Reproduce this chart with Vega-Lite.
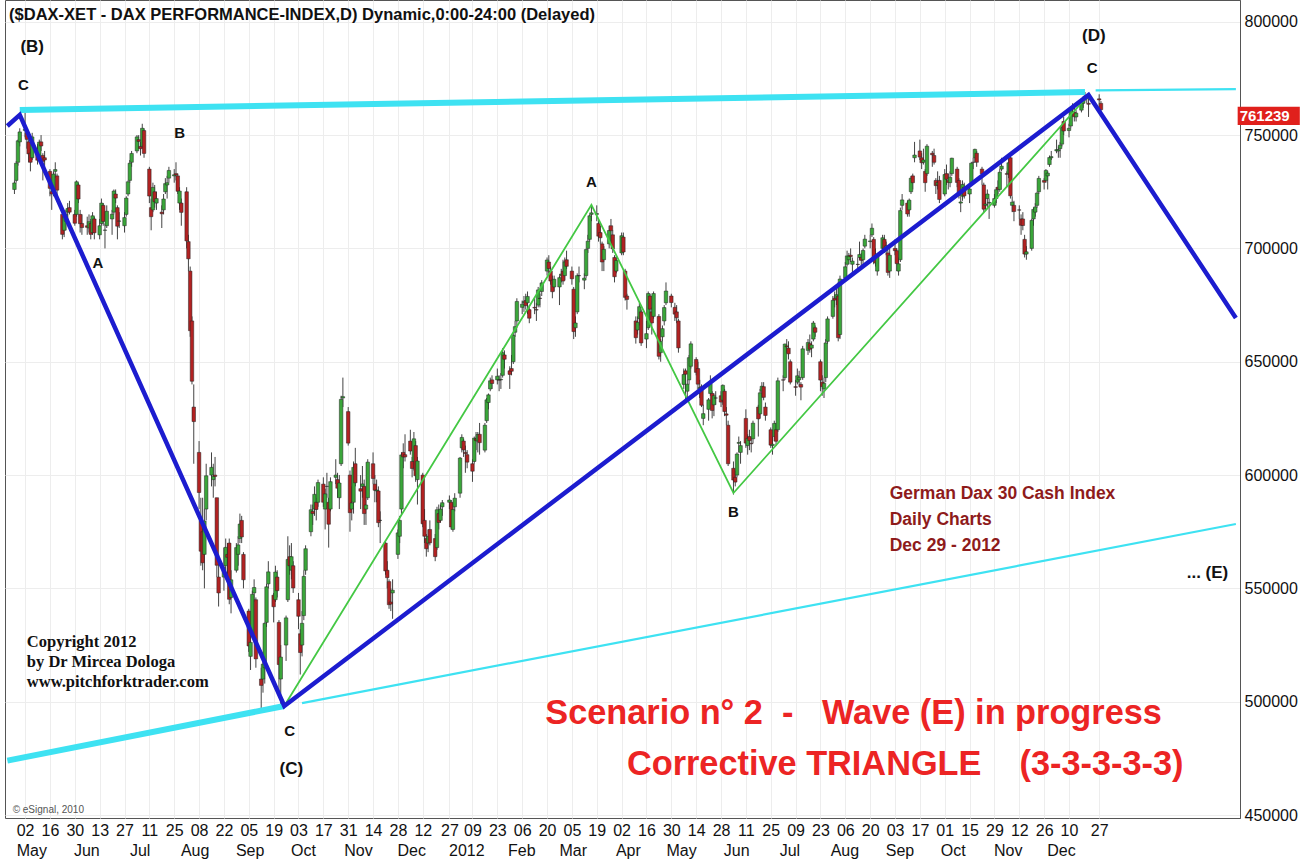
{
"$schema":"https://vega.github.io/schema/vega-lite/v6.json",
"width":1235,"height":818,"autosize":"none",
"padding":{"left":5,"top":0,"right":72,"bottom":45},
"background":"white",
"config":{"font":"Liberation Sans","view":{"stroke":"#555","strokeWidth":1}},
"resolve":{"axis":{"x":"independent","y":"independent"}},
"datasets":{
"px":[
{"d":"2011-04-26","o":7260,"h":7300,"l":7240,"c":7289},{"d":"2011-04-27","o":7300,"h":7385,"l":7290,"c":7376},{"d":"2011-04-28","o":7380,"h":7480,"l":7365,"c":7475},{"d":"2011-04-29","o":7470,"h":7530,"l":7450,"c":7514},
{"d":"2011-05-02","o":7520,"h":7600,"l":7490,"c":7527},{"d":"2011-05-03","o":7510,"h":7530,"l":7440,"c":7481},{"d":"2011-05-04","o":7470,"h":7480,"l":7380,"c":7417},{"d":"2011-05-05","o":7420,"h":7440,"l":7340,"c":7380},{"d":"2011-05-06","o":7400,"h":7510,"l":7390,"c":7492},
{"d":"2011-05-09","o":7440,"h":7460,"l":7370,"c":7389},{"d":"2011-05-10","o":7400,"h":7480,"l":7390,"c":7469},{"d":"2011-05-11","o":7470,"h":7500,"l":7430,"c":7452},{"d":"2011-05-12","o":7410,"h":7420,"l":7300,"c":7384},{"d":"2011-05-13","o":7400,"h":7430,"l":7360,"c":7390},
{"d":"2011-05-16","o":7340,"h":7350,"l":7230,"c":7265},{"d":"2011-05-17","o":7250,"h":7270,"l":7170,"c":7240},{"d":"2011-05-18","o":7250,"h":7340,"l":7230,"c":7328},{"d":"2011-05-19","o":7340,"h":7380,"l":7310,"c":7348},{"d":"2011-05-20","o":7320,"h":7330,"l":7230,"c":7257},
{"d":"2011-05-23","o":7150,"h":7170,"l":7040,"c":7062},{"d":"2011-05-24","o":7080,"h":7150,"l":7050,"c":7140},{"d":"2011-05-25","o":7120,"h":7170,"l":7080,"c":7151},{"d":"2011-05-26","o":7160,"h":7200,"l":7120,"c":7176},{"d":"2011-05-27","o":7180,"h":7210,"l":7150,"c":7160},
{"d":"2011-05-30","o":7150,"h":7170,"l":7100,"c":7111},{"d":"2011-05-31","o":7150,"h":7300,"l":7140,"c":7294},{"d":"2011-06-01","o":7280,"h":7290,"l":7200,"c":7218},{"d":"2011-06-02","o":7150,"h":7170,"l":7070,"c":7109},{"d":"2011-06-03","o":7110,"h":7150,"l":7060,"c":7092},
{"d":"2011-06-06","o":7100,"h":7140,"l":7060,"c":7093},{"d":"2011-06-07","o":7090,"h":7150,"l":7070,"c":7118},{"d":"2011-06-08","o":7110,"h":7130,"l":7040,"c":7062},{"d":"2011-06-09","o":7070,"h":7160,"l":7060,"c":7144},{"d":"2011-06-10","o":7130,"h":7140,"l":7040,"c":7069},
{"d":"2011-06-13","o":7060,"h":7130,"l":7040,"c":7100},{"d":"2011-06-14","o":7110,"h":7220,"l":7100,"c":7200},{"d":"2011-06-15","o":7190,"h":7200,"l":7100,"c":7119},{"d":"2011-06-16","o":7080,"h":7110,"l":7000,"c":7081},{"d":"2011-06-17","o":7100,"h":7190,"l":7090,"c":7164},
{"d":"2011-06-20","o":7130,"h":7170,"l":7060,"c":7151},{"d":"2011-06-21","o":7160,"h":7260,"l":7150,"c":7253},{"d":"2011-06-22","o":7240,"h":7260,"l":7200,"c":7222},{"d":"2011-06-23","o":7180,"h":7190,"l":7040,"c":7098},{"d":"2011-06-24","o":7120,"h":7160,"l":7090,"c":7121},
{"d":"2011-06-27","o":7100,"h":7160,"l":7070,"c":7136},{"d":"2011-06-28","o":7150,"h":7230,"l":7140,"c":7222},{"d":"2011-06-29","o":7240,"h":7300,"l":7230,"c":7294},{"d":"2011-06-30","o":7300,"h":7390,"l":7290,"c":7376},{"d":"2011-07-01","o":7380,"h":7430,"l":7360,"c":7419},
{"d":"2011-07-04","o":7430,"h":7500,"l":7420,"c":7492},{"d":"2011-07-05","o":7480,"h":7500,"l":7440,"c":7472},{"d":"2011-07-06","o":7450,"h":7470,"l":7410,"c":7440},{"d":"2011-07-07","o":7450,"h":7550,"l":7440,"c":7530},{"d":"2011-07-08","o":7520,"h":7530,"l":7400,"c":7419},
{"d":"2011-07-11","o":7350,"h":7360,"l":7200,"c":7231},{"d":"2011-07-12","o":7180,"h":7220,"l":7080,"c":7140},{"d":"2011-07-13","o":7170,"h":7290,"l":7160,"c":7269},{"d":"2011-07-14","o":7250,"h":7280,"l":7180,"c":7206},{"d":"2011-07-15","o":7200,"h":7250,"l":7170,"c":7220},
{"d":"2011-07-18","o":7160,"h":7190,"l":7090,"c":7153},{"d":"2011-07-19","o":7170,"h":7240,"l":7150,"c":7218},{"d":"2011-07-20","o":7250,"h":7310,"l":7240,"c":7286},{"d":"2011-07-21","o":7280,"h":7320,"l":7220,"c":7290},{"d":"2011-07-22","o":7310,"h":7360,"l":7290,"c":7344},
{"d":"2011-07-25","o":7320,"h":7350,"l":7290,"c":7325},{"d":"2011-07-26","o":7330,"h":7380,"l":7300,"c":7324},{"d":"2011-07-27","o":7320,"h":7330,"l":7240,"c":7252},{"d":"2011-07-28","o":7200,"h":7270,"l":7170,"c":7253},{"d":"2011-07-29","o":7200,"h":7220,"l":7100,"c":7159},
{"d":"2011-08-01","o":7250,"h":7270,"l":7000,"c":7033},{"d":"2011-08-02","o":7030,"h":7060,"l":6900,"c":6954},{"d":"2011-08-03","o":6900,"h":6920,"l":6610,"c":6637},{"d":"2011-08-04","o":6680,"h":6700,"l":6400,"c":6414},{"d":"2011-08-05","o":6300,"h":6400,"l":6050,"c":6236},
{"d":"2011-08-08","o":6100,"h":6150,"l":5850,"c":5923},{"d":"2011-08-09","o":5800,"h":5900,"l":5600,"c":5664},{"d":"2011-08-10","o":5750,"h":5900,"l":5580,"c":5613},{"d":"2011-08-11","o":5650,"h":5850,"l":5500,"c":5797},{"d":"2011-08-12","o":5850,"h":6050,"l":5800,"c":5997},
{"d":"2011-08-15","o":6000,"h":6100,"l":5950,"c":6034},{"d":"2011-08-16","o":5980,"h":6050,"l":5900,"c":5995},{"d":"2011-08-17","o":6000,"h":6080,"l":5950,"c":5994},{"d":"2011-08-18","o":5900,"h":5900,"l":5550,"c":5602},{"d":"2011-08-19","o":5550,"h":5650,"l":5420,"c":5480},
{"d":"2011-08-22","o":5550,"h":5680,"l":5490,"c":5593},{"d":"2011-08-23","o":5600,"h":5720,"l":5560,"c":5681},{"d":"2011-08-24","o":5650,"h":5700,"l":5550,"c":5637},{"d":"2011-08-25","o":5700,"h":5720,"l":5430,"c":5452},{"d":"2011-08-26","o":5460,"h":5580,"l":5390,"c":5538},
{"d":"2011-08-29","o":5580,"h":5700,"l":5570,"c":5680},{"d":"2011-08-30","o":5650,"h":5730,"l":5600,"c":5692},{"d":"2011-08-31","o":5720,"h":5830,"l":5700,"c":5784},{"d":"2011-09-01","o":5800,"h":5820,"l":5700,"c":5727},{"d":"2011-09-02","o":5650,"h":5660,"l":5500,"c":5538},
{"d":"2011-09-05","o":5400,"h":5410,"l":5220,"c":5246},{"d":"2011-09-06","o":5200,"h":5300,"l":5140,"c":5262},{"d":"2011-09-07","o":5300,"h":5490,"l":5290,"c":5474},{"d":"2011-09-08","o":5480,"h":5540,"l":5440,"c":5504},{"d":"2011-09-09","o":5450,"h":5460,"l":5150,"c":5189},
{"d":"2011-09-12","o":5100,"h":5150,"l":4966,"c":5072},{"d":"2011-09-13","o":5100,"h":5220,"l":5040,"c":5166},{"d":"2011-09-14","o":5150,"h":5350,"l":5080,"c":5346},{"d":"2011-09-15","o":5350,"h":5520,"l":5330,"c":5507},{"d":"2011-09-16","o":5520,"h":5620,"l":5500,"c":5573},
{"d":"2011-09-19","o":5470,"h":5480,"l":5350,"c":5419},{"d":"2011-09-20","o":5450,"h":5600,"l":5440,"c":5572},{"d":"2011-09-21","o":5550,"h":5580,"l":5460,"c":5490},{"d":"2011-09-22","o":5350,"h":5360,"l":5030,"c":5164},{"d":"2011-09-23","o":5100,"h":5250,"l":4990,"c":5197},
{"d":"2011-09-26","o":5250,"h":5380,"l":5180,"c":5370},{"d":"2011-09-27","o":5450,"h":5730,"l":5440,"c":5628},{"d":"2011-09-28","o":5640,"h":5690,"l":5560,"c":5600},{"d":"2011-09-29","o":5580,"h":5700,"l":5540,"c":5640},{"d":"2011-09-30","o":5600,"h":5620,"l":5480,"c":5502},
{"d":"2011-10-03","o":5450,"h":5480,"l":5320,"c":5377},{"d":"2011-10-04","o":5300,"h":5320,"l":5120,"c":5217},{"d":"2011-10-05","o":5250,"h":5400,"l":5200,"c":5346},{"d":"2011-10-06","o":5380,"h":5580,"l":5360,"c":5553},{"d":"2011-10-07","o":5580,"h":5690,"l":5560,"c":5675},
{"d":"2011-10-10","o":5750,"h":5870,"l":5730,"c":5847},{"d":"2011-10-11","o":5840,"h":5870,"l":5780,"c":5830},{"d":"2011-10-12","o":5850,"h":5950,"l":5820,"c":5915},{"d":"2011-10-13","o":5880,"h":5900,"l":5800,"c":5848},{"d":"2011-10-14","o":5880,"h":5980,"l":5860,"c":5967},
{"d":"2011-10-17","o":5960,"h":5990,"l":5860,"c":5880},{"d":"2011-10-18","o":5850,"h":5940,"l":5760,"c":5917},{"d":"2011-10-19","o":5950,"h":6010,"l":5900,"c":5950},{"d":"2011-10-20","o":5880,"h":5900,"l":5680,"c":5783},{"d":"2011-10-21","o":5850,"h":5990,"l":5840,"c":5971},
{"d":"2011-10-24","o":5990,"h":6070,"l":5960,"c":6000},{"d":"2011-10-25","o":5980,"h":6010,"l":5900,"c":5942},{"d":"2011-10-26","o":5900,"h":6000,"l":5850,"c":5965},{"d":"2011-10-27","o":6050,"h":6350,"l":6040,"c":6334},{"d":"2011-10-28","o":6340,"h":6430,"l":6300,"c":6346},
{"d":"2011-10-31","o":6280,"h":6300,"l":6130,"c":6141},{"d":"2011-11-01","o":6000,"h":6020,"l":5750,"c":5834},{"d":"2011-11-02","o":5850,"h":5950,"l":5800,"c":5877},{"d":"2011-11-03","o":5880,"h":6060,"l":5830,"c":6034},{"d":"2011-11-04","o":6050,"h":6120,"l":5950,"c":5966},
{"d":"2011-11-07","o":5940,"h":6000,"l":5850,"c":5929},{"d":"2011-11-08","o":5950,"h":6040,"l":5900,"c":5961},{"d":"2011-11-09","o":5950,"h":5980,"l":5780,"c":5830},{"d":"2011-11-10","o":5850,"h":5900,"l":5780,"c":5868},{"d":"2011-11-11","o":5900,"h":6070,"l":5890,"c":6057},
{"d":"2011-11-14","o":6050,"h":6100,"l":5960,"c":5985},{"d":"2011-11-15","o":5960,"h":6000,"l":5880,"c":5933},{"d":"2011-11-16","o":5930,"h":5980,"l":5880,"c":5934},{"d":"2011-11-17","o":5930,"h":5950,"l":5770,"c":5790},{"d":"2011-11-18","o":5800,"h":5840,"l":5700,"c":5800},
{"d":"2011-11-21","o":5700,"h":5710,"l":5560,"c":5577},{"d":"2011-11-22","o":5580,"h":5620,"l":5500,"c":5547},{"d":"2011-11-23","o":5530,"h":5540,"l":5410,"c":5428},{"d":"2011-11-24","o":5440,"h":5500,"l":5400,"c":5431},{"d":"2011-11-25","o":5480,"h":5540,"l":5366,"c":5492},
{"d":"2011-11-28","o":5650,"h":5760,"l":5630,"c":5745},{"d":"2011-11-29","o":5730,"h":5820,"l":5700,"c":5800},{"d":"2011-11-30","o":5850,"h":6100,"l":5820,"c":6089},{"d":"2011-12-01","o":6100,"h":6140,"l":6030,"c":6080},{"d":"2011-12-02","o":6090,"h":6180,"l":6060,"c":6080},
{"d":"2011-12-05","o":6150,"h":6200,"l":6090,"c":6106},{"d":"2011-12-06","o":6060,"h":6080,"l":5990,"c":6029},{"d":"2011-12-07","o":6060,"h":6190,"l":6020,"c":6160},{"d":"2011-12-08","o":6130,"h":6150,"l":5970,"c":5997},{"d":"2011-12-09","o":5980,"h":6080,"l":5870,"c":6062},
{"d":"2011-12-12","o":6000,"h":6010,"l":5770,"c":5785},{"d":"2011-12-13","o":5800,"h":5850,"l":5700,"c":5730},{"d":"2011-12-14","o":5720,"h":5740,"l":5640,"c":5675},{"d":"2011-12-15","o":5700,"h":5760,"l":5660,"c":5730},{"d":"2011-12-16","o":5760,"h":5800,"l":5690,"c":5701},
{"d":"2011-12-19","o":5720,"h":5740,"l":5620,"c":5640},{"d":"2011-12-20","o":5680,"h":5860,"l":5670,"c":5847},{"d":"2011-12-21","o":5830,"h":5870,"l":5760,"c":5791},{"d":"2011-12-22","o":5800,"h":5870,"l":5790,"c":5850},{"d":"2011-12-23","o":5860,"h":5890,"l":5820,"c":5878},
{"d":"2011-12-27","o":5880,"h":5910,"l":5850,"c":5890},{"d":"2011-12-28","o":5880,"h":5890,"l":5760,"c":5771},{"d":"2011-12-29","o":5760,"h":5860,"l":5750,"c":5848},{"d":"2011-12-30","o":5860,"h":5920,"l":5840,"c":5898},
{"d":"2012-01-02","o":5920,"h":6080,"l":5900,"c":6075},{"d":"2012-01-03","o":6120,"h":6180,"l":6100,"c":6166},{"d":"2012-01-04","o":6150,"h":6160,"l":6080,"c":6111},{"d":"2012-01-05","o":6100,"h":6130,"l":6010,"c":6095},{"d":"2012-01-06","o":6090,"h":6110,"l":6030,"c":6057},
{"d":"2012-01-09","o":6050,"h":6070,"l":5970,"c":6017},{"d":"2012-01-10","o":6060,"h":6170,"l":6050,"c":6163},{"d":"2012-01-11","o":6160,"h":6190,"l":6110,"c":6152},{"d":"2012-01-12","o":6150,"h":6190,"l":6100,"c":6179},{"d":"2012-01-13","o":6180,"h":6230,"l":6090,"c":6143},
{"d":"2012-01-16","o":6110,"h":6230,"l":6100,"c":6220},{"d":"2012-01-17","o":6240,"h":6340,"l":6230,"c":6332},{"d":"2012-01-18","o":6320,"h":6360,"l":6290,"c":6354},{"d":"2012-01-19","o":6380,"h":6430,"l":6370,"c":6416},{"d":"2012-01-20","o":6420,"h":6440,"l":6380,"c":6404},
{"d":"2012-01-23","o":6420,"h":6470,"l":6400,"c":6436},{"d":"2012-01-24","o":6420,"h":6440,"l":6370,"c":6419},{"d":"2012-01-25","o":6420,"h":6450,"l":6380,"c":6422},{"d":"2012-01-26","o":6440,"h":6560,"l":6430,"c":6540},{"d":"2012-01-27","o":6530,"h":6550,"l":6470,"c":6511},
{"d":"2012-01-30","o":6460,"h":6480,"l":6380,"c":6444},{"d":"2012-01-31","o":6470,"h":6530,"l":6440,"c":6458},{"d":"2012-02-01","o":6500,"h":6630,"l":6490,"c":6616},{"d":"2012-02-02","o":6630,"h":6680,"l":6610,"c":6655},{"d":"2012-02-03","o":6680,"h":6780,"l":6650,"c":6766},
{"d":"2012-02-06","o":6740,"h":6770,"l":6710,"c":6754},{"d":"2012-02-07","o":6760,"h":6790,"l":6720,"c":6765},{"d":"2012-02-08","o":6770,"h":6800,"l":6730,"c":6748},{"d":"2012-02-09","o":6760,"h":6810,"l":6710,"c":6788},{"d":"2012-02-10","o":6730,"h":6750,"l":6670,"c":6692},
{"d":"2012-02-13","o":6740,"h":6780,"l":6710,"c":6737},{"d":"2012-02-14","o":6730,"h":6760,"l":6680,"c":6728},{"d":"2012-02-15","o":6750,"h":6830,"l":6740,"c":6817},{"d":"2012-02-16","o":6780,"h":6800,"l":6740,"c":6779},{"d":"2012-02-17","o":6810,"h":6860,"l":6790,"c":6848},
{"d":"2012-02-20","o":6900,"h":6960,"l":6880,"c":6949},{"d":"2012-02-21","o":6940,"h":6970,"l":6890,"c":6911},{"d":"2012-02-22","o":6900,"h":6920,"l":6840,"c":6856},{"d":"2012-02-23","o":6860,"h":6880,"l":6780,"c":6809},{"d":"2012-02-24","o":6830,"h":6880,"l":6810,"c":6864},
{"d":"2012-02-27","o":6830,"h":6880,"l":6750,"c":6871},{"d":"2012-02-28","o":6880,"h":6910,"l":6850,"c":6887},{"d":"2012-02-29","o":6900,"h":6950,"l":6840,"c":6856},{"d":"2012-03-01","o":6880,"h":6960,"l":6860,"c":6941},{"d":"2012-03-02","o":6950,"h":6990,"l":6910,"c":6921},
{"d":"2012-03-05","o":6900,"h":6920,"l":6840,"c":6866},{"d":"2012-03-06","o":6820,"h":6830,"l":6600,"c":6633},{"d":"2012-03-07","o":6650,"h":6700,"l":6610,"c":6671},{"d":"2012-03-08","o":6720,"h":6890,"l":6710,"c":6880},{"d":"2012-03-09","o":6880,"h":6920,"l":6850,"c":6880},
{"d":"2012-03-12","o":6860,"h":6890,"l":6820,"c":6869},{"d":"2012-03-13","o":6880,"h":7000,"l":6870,"c":6995},{"d":"2012-03-14","o":7000,"h":7060,"l":6980,"c":7032},{"d":"2012-03-15","o":7040,"h":7150,"l":7030,"c":7144},{"d":"2012-03-16","o":7150,"h":7194,"l":7120,"c":7157},
{"d":"2012-03-19","o":7150,"h":7190,"l":7120,"c":7154},{"d":"2012-03-20","o":7110,"h":7130,"l":7030,"c":7054},{"d":"2012-03-21","o":7070,"h":7100,"l":7020,"c":7047},{"d":"2012-03-22","o":7020,"h":7030,"l":6900,"c":6940},{"d":"2012-03-23","o":6950,"h":7010,"l":6900,"c":6996},
{"d":"2012-03-26","o":7020,"h":7100,"l":7000,"c":7079},{"d":"2012-03-27","o":7100,"h":7130,"l":7060,"c":7078},{"d":"2012-03-28","o":7060,"h":7080,"l":6980,"c":6998},{"d":"2012-03-29","o":6960,"h":6970,"l":6850,"c":6875},{"d":"2012-03-30","o":6900,"h":6970,"l":6890,"c":6947},
{"d":"2012-04-02","o":6980,"h":7070,"l":6970,"c":7056},{"d":"2012-04-03","o":7050,"h":7070,"l":6970,"c":6984},{"d":"2012-04-04","o":6900,"h":6910,"l":6770,"c":6784},{"d":"2012-04-05","o":6790,"h":6800,"l":6730,"c":6775},
{"d":"2012-04-10","o":6680,"h":6700,"l":6580,"c":6606},{"d":"2012-04-11","o":6640,"h":6700,"l":6620,"c":6674},{"d":"2012-04-12","o":6690,"h":6760,"l":6660,"c":6743},{"d":"2012-04-13","o":6720,"h":6730,"l":6570,"c":6583},
{"d":"2012-04-16","o":6600,"h":6680,"l":6560,"c":6624},{"d":"2012-04-17","o":6650,"h":6810,"l":6640,"c":6801},{"d":"2012-04-18","o":6790,"h":6800,"l":6710,"c":6732},{"d":"2012-04-19","o":6720,"h":6740,"l":6620,"c":6671},{"d":"2012-04-20","o":6700,"h":6810,"l":6690,"c":6801},
{"d":"2012-04-23","o":6700,"h":6710,"l":6510,"c":6524},{"d":"2012-04-24","o":6540,"h":6600,"l":6500,"c":6590},{"d":"2012-04-25","o":6610,"h":6660,"l":6590,"c":6646},{"d":"2012-04-26","o":6680,"h":6750,"l":6660,"c":6739},{"d":"2012-04-27","o":6760,"h":6850,"l":6750,"c":6812},
{"d":"2012-04-30","o":6790,"h":6800,"l":6740,"c":6761},{"d":"2012-05-02","o":6740,"h":6760,"l":6680,"c":6710},{"d":"2012-05-03","o":6720,"h":6750,"l":6670,"c":6694},{"d":"2012-05-04","o":6680,"h":6690,"l":6540,"c":6561},
{"d":"2012-05-07","o":6400,"h":6470,"l":6380,"c":6444},{"d":"2012-05-08","o":6460,"h":6470,"l":6320,"c":6445},{"d":"2012-05-09","o":6370,"h":6420,"l":6330,"c":6401},{"d":"2012-05-10","o":6420,"h":6530,"l":6400,"c":6518},{"d":"2012-05-11","o":6480,"h":6590,"l":6470,"c":6579},
{"d":"2012-05-14","o":6510,"h":6520,"l":6440,"c":6453},{"d":"2012-05-15","o":6470,"h":6500,"l":6380,"c":6401},{"d":"2012-05-16","o":6360,"h":6420,"l":6340,"c":6386},{"d":"2012-05-17","o":6390,"h":6400,"l":6300,"c":6308},{"d":"2012-05-18","o":6250,"h":6310,"l":6220,"c":6271},
{"d":"2012-05-21","o":6290,"h":6340,"l":6240,"c":6332},{"d":"2012-05-22","o":6360,"h":6440,"l":6350,"c":6404},{"d":"2012-05-23","o":6360,"h":6370,"l":6250,"c":6285},{"d":"2012-05-24","o":6310,"h":6360,"l":6260,"c":6350},{"d":"2012-05-25","o":6340,"h":6370,"l":6310,"c":6340},
{"d":"2012-05-28","o":6350,"h":6370,"l":6300,"c":6322},{"d":"2012-05-29","o":6330,"h":6400,"l":6310,"c":6396},{"d":"2012-05-30","o":6370,"h":6380,"l":6260,"c":6280},{"d":"2012-05-31","o":6270,"h":6300,"l":6220,"c":6264},{"d":"2012-06-01","o":6220,"h":6240,"l":6040,"c":6050},
{"d":"2012-06-04","o":6030,"h":6060,"l":5914,"c":5978},{"d":"2012-06-05","o":5990,"h":6020,"l":5950,"c":5969},{"d":"2012-06-06","o":6000,"h":6100,"l":5990,"c":6093},{"d":"2012-06-07","o":6140,"h":6170,"l":6100,"c":6144},{"d":"2012-06-08","o":6100,"h":6150,"l":6050,"c":6130},
{"d":"2012-06-11","o":6250,"h":6290,"l":6120,"c":6141},{"d":"2012-06-12","o":6130,"h":6180,"l":6090,"c":6162},{"d":"2012-06-13","o":6170,"h":6200,"l":6110,"c":6152},{"d":"2012-06-14","o":6140,"h":6170,"l":6100,"c":6138},{"d":"2012-06-15","o":6160,"h":6240,"l":6140,"c":6229},
{"d":"2012-06-18","o":6300,"h":6310,"l":6170,"c":6248},{"d":"2012-06-19","o":6270,"h":6380,"l":6250,"c":6363},{"d":"2012-06-20","o":6370,"h":6410,"l":6340,"c":6392},{"d":"2012-06-21","o":6390,"h":6410,"l":6330,"c":6343},{"d":"2012-06-22","o":6300,"h":6320,"l":6240,"c":6263},
{"d":"2012-06-25","o":6200,"h":6210,"l":6120,"c":6132},{"d":"2012-06-26","o":6130,"h":6170,"l":6090,"c":6136},{"d":"2012-06-27","o":6170,"h":6240,"l":6150,"c":6228},{"d":"2012-06-28","o":6200,"h":6230,"l":6130,"c":6149},{"d":"2012-06-29","o":6200,"h":6430,"l":6190,"c":6416},
{"d":"2012-07-02","o":6420,"h":6440,"l":6370,"c":6419},{"d":"2012-07-03","o":6430,"h":6580,"l":6420,"c":6578},{"d":"2012-07-04","o":6570,"h":6600,"l":6540,"c":6566},{"d":"2012-07-05","o":6560,"h":6590,"l":6510,"c":6535},{"d":"2012-07-06","o":6500,"h":6510,"l":6400,"c":6410},
{"d":"2012-07-09","o":6390,"h":6420,"l":6350,"c":6387},{"d":"2012-07-10","o":6410,"h":6470,"l":6400,"c":6438},{"d":"2012-07-11","o":6420,"h":6460,"l":6390,"c":6431},{"d":"2012-07-12","o":6400,"h":6410,"l":6330,"c":6388},{"d":"2012-07-13","o":6430,"h":6570,"l":6420,"c":6557},
{"d":"2012-07-16","o":6550,"h":6600,"l":6530,"c":6585},{"d":"2012-07-17","o":6580,"h":6620,"l":6540,"c":6555},{"d":"2012-07-18","o":6560,"h":6590,"l":6520,"c":6574},{"d":"2012-07-19","o":6600,"h":6680,"l":6590,"c":6671},{"d":"2012-07-20","o":6650,"h":6660,"l":6610,"c":6630},
{"d":"2012-07-23","o":6500,"h":6510,"l":6370,"c":6419},{"d":"2012-07-24","o":6410,"h":6440,"l":6350,"c":6390},{"d":"2012-07-25","o":6380,"h":6430,"l":6340,"c":6405},{"d":"2012-07-26","o":6430,"h":6600,"l":6410,"c":6583},{"d":"2012-07-27","o":6590,"h":6700,"l":6580,"c":6689},
{"d":"2012-07-30","o":6700,"h":6790,"l":6690,"c":6771},{"d":"2012-07-31","o":6780,"h":6810,"l":6740,"c":6772},{"d":"2012-08-01","o":6780,"h":6830,"l":6750,"c":6796},{"d":"2012-08-02","o":6790,"h":6850,"l":6590,"c":6606},{"d":"2012-08-03","o":6620,"h":6880,"l":6600,"c":6865},
{"d":"2012-08-06","o":6870,"h":6940,"l":6860,"c":6919},{"d":"2012-08-07","o":6930,"h":6990,"l":6920,"c":6967},{"d":"2012-08-08","o":6950,"h":6980,"l":6930,"c":6966},{"d":"2012-08-09","o":6970,"h":7000,"l":6940,"c":6964},{"d":"2012-08-10","o":6930,"h":6960,"l":6890,"c":6944},
{"d":"2012-08-13","o":6930,"h":6960,"l":6900,"c":6929},{"d":"2012-08-14","o":6960,"h":7030,"l":6950,"c":6973},{"d":"2012-08-15","o":6960,"h":6980,"l":6920,"c":6947},{"d":"2012-08-16","o":6950,"h":7000,"l":6930,"c":6991},{"d":"2012-08-17","o":7010,"h":7060,"l":7000,"c":7041},
{"d":"2012-08-20","o":7030,"h":7060,"l":7000,"c":7033},{"d":"2012-08-21","o":7060,"h":7110,"l":7050,"c":7089},{"d":"2012-08-22","o":7040,"h":7050,"l":6930,"c":6954},{"d":"2012-08-23","o":6960,"h":7000,"l":6920,"c":6936},{"d":"2012-08-24","o":6900,"h":6980,"l":6880,"c":6972},
{"d":"2012-08-27","o":7000,"h":7060,"l":6990,"c":7047},{"d":"2012-08-28","o":7040,"h":7060,"l":6980,"c":7000},{"d":"2012-08-29","o":6990,"h":7030,"l":6970,"c":7011},{"d":"2012-08-30","o":6980,"h":6990,"l":6880,"c":6894},{"d":"2012-08-31","o":6900,"h":7010,"l":6870,"c":6970},
{"d":"2012-09-03","o":7000,"h":7040,"l":6970,"c":6990},{"d":"2012-09-04","o":6990,"h":7000,"l":6900,"c":6933},{"d":"2012-09-05","o":6900,"h":6960,"l":6880,"c":6932},{"d":"2012-09-06","o":6950,"h":7180,"l":6940,"c":7167},{"d":"2012-09-07","o":7190,"h":7240,"l":7170,"c":7214},
{"d":"2012-09-10","o":7200,"h":7210,"l":7140,"c":7152},{"d":"2012-09-11","o":7170,"h":7220,"l":7140,"c":7213},{"d":"2012-09-12","o":7250,"h":7320,"l":7240,"c":7310},{"d":"2012-09-13","o":7320,"h":7330,"l":7260,"c":7290},{"d":"2012-09-14","o":7400,"h":7470,"l":7380,"c":7412},
{"d":"2012-09-17","o":7430,"h":7480,"l":7390,"c":7403},{"d":"2012-09-18","o":7400,"h":7420,"l":7350,"c":7378},{"d":"2012-09-19","o":7380,"h":7440,"l":7370,"c":7390},{"d":"2012-09-20","o":7340,"h":7350,"l":7250,"c":7290},{"d":"2012-09-21","o":7330,"h":7460,"l":7320,"c":7451},
{"d":"2012-09-24","o":7420,"h":7430,"l":7360,"c":7413},{"d":"2012-09-25","o":7410,"h":7440,"l":7370,"c":7380},{"d":"2012-09-26","o":7300,"h":7310,"l":7240,"c":7277},{"d":"2012-09-27","o":7280,"h":7340,"l":7260,"c":7290},{"d":"2012-09-28","o":7300,"h":7320,"l":7200,"c":7216},
{"d":"2012-10-01","o":7240,"h":7350,"l":7230,"c":7326},{"d":"2012-10-02","o":7330,"h":7370,"l":7280,"c":7305},{"d":"2012-10-03","o":7300,"h":7330,"l":7260,"c":7291},{"d":"2012-10-04","o":7290,"h":7340,"l":7270,"c":7314},{"d":"2012-10-05","o":7330,"h":7400,"l":7320,"c":7398},
{"d":"2012-10-08","o":7350,"h":7360,"l":7270,"c":7291},{"d":"2012-10-09","o":7300,"h":7310,"l":7220,"c":7234},{"d":"2012-10-10","o":7200,"h":7230,"l":7160,"c":7205},{"d":"2012-10-11","o":7230,"h":7300,"l":7210,"c":7282},{"d":"2012-10-12","o":7270,"h":7290,"l":7220,"c":7232},
{"d":"2012-10-15","o":7240,"h":7280,"l":7200,"c":7262},{"d":"2012-10-16","o":7290,"h":7380,"l":7280,"c":7376},{"d":"2012-10-17","o":7380,"h":7400,"l":7350,"c":7380},{"d":"2012-10-18","o":7400,"h":7440,"l":7380,"c":7437},{"d":"2012-10-19","o":7420,"h":7430,"l":7360,"c":7380},
{"d":"2012-10-22","o":7350,"h":7360,"l":7280,"c":7329},{"d":"2012-10-23","o":7280,"h":7290,"l":7160,"c":7173},{"d":"2012-10-24","o":7190,"h":7240,"l":7170,"c":7196},{"d":"2012-10-25","o":7220,"h":7260,"l":7180,"c":7240},{"d":"2012-10-26","o":7200,"h":7220,"l":7130,"c":7203},
{"d":"2012-10-29","o":7190,"h":7240,"l":7180,"c":7220},{"d":"2012-10-30","o":7220,"h":7270,"l":7200,"c":7259},{"d":"2012-10-31","o":7270,"h":7300,"l":7240,"c":7261},{"d":"2012-11-01","o":7260,"h":7350,"l":7250,"c":7336},{"d":"2012-11-02","o":7350,"h":7400,"l":7340,"c":7363},
{"d":"2012-11-05","o":7330,"h":7340,"l":7270,"c":7327},{"d":"2012-11-06","o":7330,"h":7400,"l":7310,"c":7378},{"d":"2012-11-07","o":7400,"h":7420,"l":7220,"c":7232},{"d":"2012-11-08","o":7190,"h":7230,"l":7160,"c":7204},{"d":"2012-11-09","o":7190,"h":7210,"l":7120,"c":7163},
{"d":"2012-11-12","o":7170,"h":7190,"l":7130,"c":7169},{"d":"2012-11-13","o":7130,"h":7150,"l":7060,"c":7102},{"d":"2012-11-14","o":7130,"h":7160,"l":7080,"c":7101},{"d":"2012-11-15","o":7040,"h":7060,"l":6960,"c":6975},{"d":"2012-11-16","o":6975,"h":7010,"l":6950,"c":6985},
{"d":"2012-11-19","o":7000,"h":7130,"l":6990,"c":7124},{"d":"2012-11-20","o":7130,"h":7180,"l":7100,"c":7172},{"d":"2012-11-21","o":7160,"h":7200,"l":7140,"c":7183},{"d":"2012-11-22","o":7190,"h":7250,"l":7180,"c":7244},{"d":"2012-11-23","o":7250,"h":7320,"l":7240,"c":7309},
{"d":"2012-11-26","o":7300,"h":7310,"l":7260,"c":7292},{"d":"2012-11-27","o":7300,"h":7350,"l":7290,"c":7344},{"d":"2012-11-28","o":7320,"h":7340,"l":7260,"c":7332},{"d":"2012-11-29","o":7370,"h":7410,"l":7360,"c":7401},{"d":"2012-11-30","o":7400,"h":7430,"l":7390,"c":7405},
{"d":"2012-12-03","o":7430,"h":7480,"l":7420,"c":7436},{"d":"2012-12-04","o":7430,"h":7450,"l":7400,"c":7435},{"d":"2012-12-05","o":7440,"h":7470,"l":7400,"c":7456},{"d":"2012-12-06","o":7460,"h":7540,"l":7450,"c":7534},{"d":"2012-12-07","o":7560,"h":7580,"l":7500,"c":7518},
{"d":"2012-12-10","o":7520,"h":7550,"l":7490,"c":7530},{"d":"2012-12-11","o":7540,"h":7620,"l":7530,"c":7615},{"d":"2012-12-12","o":7620,"h":7640,"l":7590,"c":7614},{"d":"2012-12-13","o":7600,"h":7620,"l":7560,"c":7581},{"d":"2012-12-14","o":7580,"h":7610,"l":7560,"c":7597},
{"d":"2012-12-17","o":7610,"h":7660,"l":7600,"c":7651},{"d":"2012-12-18","o":7640,"h":7670,"l":7620,"c":7656},{"d":"2012-12-19","o":7660,"h":7690,"l":7650,"c":7672},{"d":"2012-12-20","o":7660,"h":7680,"l":7640,"c":7669},{"d":"2012-12-21","o":7640,"h":7660,"l":7580,"c":7636},
{"d":"2012-12-27","o":7660,"h":7680,"l":7600,"c":7655},{"d":"2012-12-28","o":7640,"h":7650,"l":7590,"c":7612}
]},
"layer":[
{"data":{"name":"px"},"mark":{"type":"rule","color":"#444","strokeWidth":1},
 "encoding":{
  "x":{"field":"d","type":"temporal","scale":{"type":"utc","domain":[{"year":2011,"month":4,"date":23,"hours":12,"utc":true},{"year":2013,"month":3,"date":13,"hours":12,"utc":true}]},
   "axis":{"orient":"bottom","title":null,"format":"%d","labelFontSize":16,"labelColor":"#111","labelPadding":4,"ticks":false,"domain":false,"grid":true,"gridColor":"#ededed","labelFlush":false,"labelOverlap":false,
    "values":[{"year":2011,"month":5,"date":2,"utc":true},{"year":2011,"month":5,"date":16,"utc":true},{"year":2011,"month":5,"date":30,"utc":true},{"year":2011,"month":6,"date":13,"utc":true},{"year":2011,"month":6,"date":27,"utc":true},{"year":2011,"month":7,"date":11,"utc":true},{"year":2011,"month":7,"date":25,"utc":true},{"year":2011,"month":8,"date":8,"utc":true},{"year":2011,"month":8,"date":22,"utc":true},{"year":2011,"month":9,"date":5,"utc":true},{"year":2011,"month":9,"date":19,"utc":true},{"year":2011,"month":10,"date":3,"utc":true},{"year":2011,"month":10,"date":17,"utc":true},{"year":2011,"month":10,"date":31,"utc":true},{"year":2011,"month":11,"date":14,"utc":true},{"year":2011,"month":11,"date":28,"utc":true},{"year":2011,"month":12,"date":12,"utc":true},{"year":2011,"month":12,"date":27,"utc":true},
     {"year":2012,"month":1,"date":9,"utc":true},{"year":2012,"month":1,"date":23,"utc":true},{"year":2012,"month":2,"date":6,"utc":true},{"year":2012,"month":2,"date":20,"utc":true},{"year":2012,"month":3,"date":5,"utc":true},{"year":2012,"month":3,"date":19,"utc":true},{"year":2012,"month":4,"date":2,"utc":true},{"year":2012,"month":4,"date":16,"utc":true},{"year":2012,"month":4,"date":30,"utc":true},{"year":2012,"month":5,"date":14,"utc":true},{"year":2012,"month":5,"date":28,"utc":true},{"year":2012,"month":6,"date":11,"utc":true},{"year":2012,"month":6,"date":25,"utc":true},{"year":2012,"month":7,"date":9,"utc":true},{"year":2012,"month":7,"date":23,"utc":true},{"year":2012,"month":8,"date":6,"utc":true},{"year":2012,"month":8,"date":20,"utc":true},{"year":2012,"month":9,"date":3,"utc":true},{"year":2012,"month":9,"date":17,"utc":true},{"year":2012,"month":10,"date":1,"utc":true},{"year":2012,"month":10,"date":15,"utc":true},{"year":2012,"month":10,"date":29,"utc":true},{"year":2012,"month":11,"date":12,"utc":true},{"year":2012,"month":11,"date":26,"utc":true},{"year":2012,"month":12,"date":10,"utc":true},{"year":2012,"month":12,"date":27,"utc":true}]}},
  "y":{"field":"l","type":"quantitative","scale":{"domain":[4487,8096],"nice":false,"zero":false},
   "axis":{"orient":"right","title":null,"values":[4500,5000,5500,6000,6500,7000,7500,8000],"labelExpr":"format(datum.value*100,'d')","labelAlign":"left","labelBaseline":"middle","labelFontSize":16,"labelColor":"#111","labelPadding":4,"ticks":false,"domain":true,"domainColor":"#555","grid":true,"gridColor":"#ededed","labelFlush":false,"labelOverlap":false}},
  "y2":{"field":"h"}}},
{"data":{"name":"px"},"mark":{"type":"bar","size":3.5,"stroke":"#222","strokeWidth":0.5},
 "encoding":{
  "x":{"field":"d","type":"temporal",
   "axis":{"orient":"bottom","title":null,"labelExpr":"utcmonth(datum.value)==0 ? utcFormat(datum.value,'%Y') : utcFormat(datum.value,'%b')","labelAlign":"center","labelOffset":8,"labelFontSize":16,"labelColor":"#111","labelPadding":24,"ticks":false,"domain":false,"grid":false,"labelFlush":false,"labelOverlap":false,
    "values":[{"year":2011,"month":5,"date":1,"utc":true},{"year":2011,"month":6,"date":1,"utc":true},{"year":2011,"month":7,"date":1,"utc":true},{"year":2011,"month":8,"date":1,"utc":true},{"year":2011,"month":9,"date":1,"utc":true},{"year":2011,"month":10,"date":1,"utc":true},{"year":2011,"month":11,"date":1,"utc":true},{"year":2011,"month":12,"date":1,"utc":true},{"year":2012,"month":1,"date":1,"utc":true},{"year":2012,"month":2,"date":1,"utc":true},{"year":2012,"month":3,"date":1,"utc":true},{"year":2012,"month":4,"date":1,"utc":true},{"year":2012,"month":5,"date":1,"utc":true},{"year":2012,"month":6,"date":1,"utc":true},{"year":2012,"month":7,"date":1,"utc":true},{"year":2012,"month":8,"date":1,"utc":true},{"year":2012,"month":9,"date":1,"utc":true},{"year":2012,"month":10,"date":1,"utc":true},{"year":2012,"month":11,"date":1,"utc":true},{"year":2012,"month":12,"date":1,"utc":true}]}},
  "y":{"field":"o","type":"quantitative","axis":null},
  "y2":{"field":"c"},
  "fill":{"condition":{"test":"datum.c >= datum.o","value":"#3aa63a"},"value":"#b22222"}}},
{"data":{"values":[{"g":"t","d":"2011-04-29","p":7611},{"g":"t","d":"2012-12-19","p":7690},{"g":"b","d":"2011-04-22","p":4740},{"g":"b","d":"2011-09-25","p":4981}]},
 "mark":{"type":"line","color":"#3ee2f2","strokeWidth":6,"clip":true},
 "encoding":{"x":{"field":"d","type":"temporal","axis":null},"y":{"field":"p","type":"quantitative","axis":null},"detail":{"field":"g"}}},
{"data":{"values":[{"g":"t","d":"2012-12-25","p":7697},{"g":"t","d":"2013-03-14","p":7703},{"g":"b","d":"2011-10-05","p":4994},{"g":"b","d":"2013-03-14","p":5784}]},
 "mark":{"type":"line","color":"#3ee2f2","strokeWidth":2.2,"clip":true},
 "encoding":{"x":{"field":"d","type":"temporal","axis":null},"y":{"field":"p","type":"quantitative","axis":null},"detail":{"field":"g"}}},
{"data":{"values":[{"d":"2011-09-25","p":4981},{"d":"2012-03-16","p":7192},{"d":"2012-06-04","p":5921},{"d":"2012-12-20","p":7668}]},
 "mark":{"type":"line","color":"#44c844","strokeWidth":1.8,"clip":true},
 "encoding":{"x":{"field":"d","type":"temporal","axis":null},"y":{"field":"p","type":"quantitative","axis":null}}},
{"data":{"values":[{"d":"2011-04-22","p":7540},{"d":"2011-04-29","p":7589},{"d":"2011-09-25","p":4981},{"d":"2012-12-21","p":7677},{"d":"2013-03-14","p":6693}]},
 "mark":{"type":"line","color":"#1c1ccf","strokeWidth":4.5,"clip":true},
 "encoding":{"x":{"field":"d","type":"temporal","axis":null},"y":{"field":"p","type":"quantitative","axis":null}}},
{"data":{"values":[{"d":"2011-05-01","p":7721,"t":"C"},{"d":"2011-07-28","p":7509,"t":"B"},{"d":"2011-06-12","p":6936,"t":"A"},{"d":"2012-03-16","p":7293,"t":"A"},{"d":"2012-06-04","p":5837,"t":"B"},{"d":"2011-09-28","p":4871,"t":"C"},{"d":"2012-12-23","p":7796,"t":"C"}]},
 "mark":{"type":"text","fontSize":15,"fontWeight":"bold","color":"#111","align":"center","baseline":"middle"},
 "encoding":{"x":{"field":"d","type":"temporal","axis":null},"y":{"field":"p","type":"quantitative","axis":null},"text":{"field":"t"}}},
{"data":{"values":[{"d":"2011-05-06","p":7889,"t":"(B)"},{"d":"2011-09-29","p":4703,"t":"(C)"},{"d":"2012-12-24","p":7937,"t":"(D)"},{"d":"2013-02-26","p":5568,"t":"... (E)"}]},
 "mark":{"type":"text","fontSize":17,"fontWeight":"bold","color":"#111","align":"center","baseline":"middle"},
 "encoding":{"x":{"field":"d","type":"temporal","axis":null},"y":{"field":"p","type":"quantitative","axis":null},"text":{"field":"t"}}},
{"data":{"values":[{"d":"2011-04-23","p":8030,"t":"($DAX-XET - DAX PERFORMANCE-INDEX,D) Dynamic,0:00-24:00 (Delayed)"}]},
 "mark":{"type":"text","fontSize":16.5,"fontWeight":"bold","color":"#111","align":"left","baseline":"middle"},
 "encoding":{"x":{"field":"d","type":"temporal","axis":null},"y":{"field":"p","type":"quantitative","axis":null},"text":{"field":"t"}}},
{"data":{"values":[{"d":"2012-08-31","p":5916,"t":"German Dax 30 Cash Index"},{"d":"2012-08-31","p":5802,"t":"Daily Charts"},{"d":"2012-08-31","p":5687,"t":"Dec 29 - 2012"}]},
 "mark":{"type":"text","fontSize":17.5,"fontWeight":"bold","color":"#8e1b1b","align":"left","baseline":"middle"},
 "encoding":{"x":{"field":"d","type":"temporal","axis":null},"y":{"field":"p","type":"quantitative","axis":null},"text":{"field":"t"}}},
{"data":{"values":[{"d":"2011-05-03","p":5264,"t":"Copyright 2012"},{"d":"2011-05-03","p":5175,"t":"by Dr Mircea Dologa"},{"d":"2011-05-03","p":5087,"t":"www.pitchforktrader.com"}]},
 "mark":{"type":"text","font":"Liberation Serif","fontSize":16.5,"fontWeight":"bold","color":"#111","align":"left","baseline":"middle"},
 "encoding":{"x":{"field":"d","type":"temporal","axis":null},"y":{"field":"p","type":"quantitative","axis":null},"text":{"field":"t"}}},
{"data":{"values":[{"d":"2012-02-19","p":4946,"t":"Scenario n° 2\u00a0\u00a0-\u00a0\u00a0\u00a0Wave (E) in progress"},{"d":"2012-04-05","p":4721,"t":"Corrective TRIANGLE\u00a0\u00a0\u00a0\u00a0(3-3-3-3-3)"}]},
 "mark":{"type":"text","fontSize":34.3,"fontWeight":"bold","color":"#ec2424","align":"left","baseline":"middle"},
 "encoding":{"x":{"field":"d","type":"temporal","axis":null},"y":{"field":"p","type":"quantitative","axis":null},"text":{"field":"t"}}},
{"data":{"values":[{"d":"2011-04-25","p":4522,"t":"© eSignal, 2010"}]},
 "mark":{"type":"text","fontSize":10,"color":"#555","align":"left","baseline":"middle"},
 "encoding":{"x":{"field":"d","type":"temporal","axis":null},"y":{"field":"p","type":"quantitative","axis":null},"text":{"field":"t"}}},
{"data":{"values":[{"d":"2013-03-15","d2":"2013-04-19","p":7625,"p2":7545}]},
 "mark":{"type":"rect","color":"#e0201c","clip":false},
 "encoding":{"x":{"field":"d","type":"temporal","axis":null},"x2":{"field":"d2"},"y":{"field":"p","type":"quantitative","axis":null},"y2":{"field":"p2"}}},
{"data":{"values":[{"d":"2013-03-15","p":7585,"t":"761239"}]},
 "mark":{"type":"text","fontSize":15,"fontWeight":"bold","color":"white","align":"left","baseline":"middle","dx":2,"clip":false},
 "encoding":{"x":{"field":"d","type":"temporal","axis":null},"y":{"field":"p","type":"quantitative","axis":null},"text":{"field":"t"}}}
]
}
